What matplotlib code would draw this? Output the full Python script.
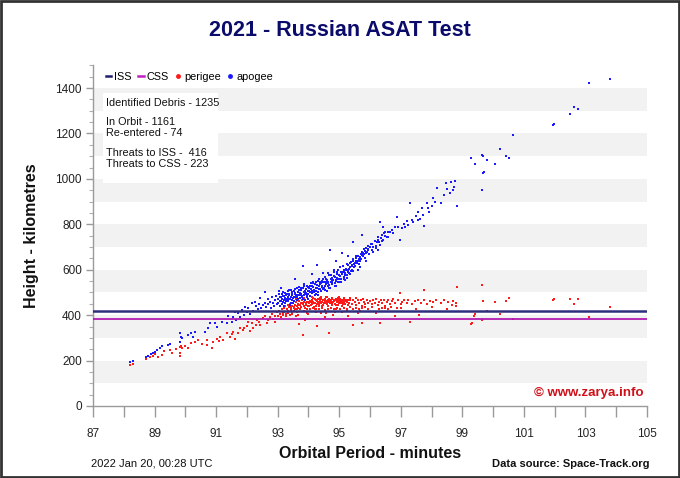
import matplotlib
matplotlib.use("Agg")
import matplotlib.pyplot as plt
import numpy as np
from matplotlib.lines import Line2D
from matplotlib.patches import Rectangle

plt.rcParams['font.family'] = ['Liberation Sans', 'DejaVu Sans']

# ---------------- data ----------------
iss_height = 420
css_height = 385

apogee = [
    (88.20, 195), (88.31, 199), (88.72, 214), (88.80, 220), (88.87, 229), (88.94, 235), (89.01, 239),
    (89.09, 247), (89.18, 254), (89.23, 264), (89.45, 269), (89.50, 273), (89.83, 320), (89.83, 283),
    (89.88, 298), (89.85, 305), (90.10, 313), (90.20, 320), (90.31, 327), (90.26, 305), (90.64, 327),
    (90.75, 342), (90.80, 364), (90.96, 364), (91.02, 349), (91.18, 371), (91.34, 364), (91.50, 371),
    (91.61, 415), (91.72, 408), (91.83, 423), (91.78, 393), (91.94, 437), (92.16, 452), (92.26, 459),
    (92.43, 474), (92.53, 445), (91.40, 395), (91.55, 390), (91.65, 380), (91.90, 400), (92.00, 415),
    (92.05, 430), (92.10, 405), (92.20, 420), (92.30, 440), (92.35, 425), (92.40, 450), (92.45, 432),
    (92.60, 455), (92.62, 438), (92.68, 470), (92.70, 448), (92.75, 460), (92.78, 430), (92.82, 478),
    (92.85, 452), (92.88, 440), (92.92, 465), (92.95, 485), (92.98, 448),
    (93.00, 455), (93.02, 470), (93.05, 492), (93.07, 440), (93.10, 462), (93.12, 478), (93.15, 450),
    (93.17, 500), (93.20, 468), (93.22, 485), (93.25, 455), (93.27, 472), (93.30, 495), (93.32, 462),
    (93.35, 480), (93.37, 510), (93.40, 470), (93.42, 455), (93.45, 488), (93.47, 500), (93.50, 475),
    (93.52, 462), (93.55, 492), (93.57, 515), (93.60, 480), (93.62, 468), (93.65, 500), (93.67, 487),
    (93.70, 525), (93.72, 475), (93.75, 495), (93.77, 510), (93.80, 485), (93.82, 470), (93.85, 502),
    (93.87, 530), (93.90, 492), (93.92, 515), (93.95, 480), (93.97, 505), (94.00, 495), (94.02, 520),
    (94.05, 485), (94.07, 540), (94.10, 505), (94.12, 498), (94.15, 525), (94.17, 512), (94.20, 490),
    (94.22, 535), (94.25, 508), (94.27, 520), (94.30, 550), (94.32, 500), (94.35, 528), (94.37, 515),
    (94.40, 540), (94.42, 505), (94.45, 530), (94.47, 560), (94.50, 520), (94.52, 545), (94.55, 512),
    (94.57, 535), (94.60, 555), (94.62, 528), (94.65, 542), (94.67, 575), (94.70, 520), (94.72, 548),
    (94.75, 565), (94.77, 535), (94.80, 555), (94.82, 590), (94.85, 540), (94.87, 568), (94.90, 550),
    (94.92, 580), (94.95, 560), (94.97, 600), (95.00, 545), (95.02, 572), (95.05, 590), (95.07, 560),
    (95.10, 580), (95.12, 615), (95.15, 570), (95.17, 595), (95.20, 585), (95.22, 605), (95.25, 575),
    (95.27, 620), (95.30, 598), (95.32, 585), (95.35, 610), (95.37, 635), (95.40, 600), (95.42, 620),
    (95.45, 645), (95.47, 610), (95.50, 630), (95.52, 615), (95.55, 650), (95.57, 635), (95.60, 660),
    (95.62, 640), (95.65, 625), (95.67, 655), (95.70, 670), (95.72, 645), (95.75, 680), (95.77, 660),
    (95.80, 690), (95.82, 668), (95.85, 650), (95.87, 695), (95.90, 678), (95.92, 705), (95.95, 688),
    (95.97, 670), (96.00, 700), (96.02, 715),
    (93.08, 482), (93.13, 495), (93.18, 458), (93.23, 476), (93.28, 488), (93.33, 472), (93.38, 493),
    (93.43, 478), (93.48, 465), (93.53, 505), (93.58, 490), (93.63, 478), (93.68, 512), (93.73, 498),
    (93.78, 482), (93.83, 518), (93.88, 505), (93.93, 498), (93.98, 522), (94.03, 505), (94.08, 515),
    (94.13, 530), (94.18, 502), (94.23, 548), (94.28, 532), (94.33, 515), (94.38, 545), (94.43, 522),
    (94.48, 548), (94.53, 530), (94.58, 560), (94.63, 548), (94.68, 532), (94.73, 558), (94.78, 545),
    (94.83, 572), (94.88, 555), (94.93, 565), (94.98, 575), (95.03, 558), (95.08, 582), (95.13, 590),
    (95.18, 578), (95.23, 598), (95.28, 588), (95.33, 605), (95.38, 595), (95.43, 615), (95.48, 625),
    (95.53, 640), (95.58, 628), (95.63, 648), (95.68, 640), (95.73, 665), (95.78, 675), (95.83, 682),
    (95.88, 672), (95.93, 690),
    (93.04, 505), (93.14, 470), (93.24, 498), (93.34, 505), (93.44, 512), (93.54, 478), (93.64, 520),
    (93.74, 488), (93.84, 535), (93.94, 528), (94.04, 530), (94.14, 548), (94.24, 518), (94.34, 560),
    (94.44, 552), (94.54, 570), (94.64, 585), (94.74, 578), (94.84, 598), (94.94, 590), (95.04, 610),
    (95.14, 600), (95.24, 625), (95.34, 630), (95.44, 638), (95.54, 660), (93.16, 485), (93.36, 490),
    (93.56, 498), (93.76, 520), (93.96, 490), (94.16, 540), (94.36, 535), (94.56, 548), (94.76, 550),
    (94.96, 545), (95.16, 560), (95.36, 580), (93.06, 462), (93.26, 462), (93.46, 492), (93.66, 470),
    (93.86, 490), (94.06, 500), (94.26, 495), (94.46, 515), (94.66, 520), (94.86, 530), (95.06, 545),
    (95.26, 565), (95.46, 595), (95.66, 612), (95.86, 640),
    (93.20, 440), (93.50, 452), (93.90, 465), (94.30, 488), (94.60, 505), (94.90, 528), (95.20, 555),
    (95.60, 598), (93.40, 445), (94.00, 470),
    (93.81, 616), (94.29, 621), (94.70, 687), (95.08, 672), (95.46, 723), (95.73, 753), (94.48, 584),
    (93.55, 560), (94.10, 580), (93.10, 520), (92.60, 500), (94.90, 640), (95.30, 660),
    (96.06, 687), (96.11, 701), (96.22, 723), (96.27, 687), (96.27, 743), (96.32, 709), (96.32, 811),
    (96.38, 753), (96.43, 731), (96.43, 790), (96.49, 768), (96.54, 743), (96.65, 768), (96.76, 760),
    (96.81, 787), (96.87, 834), (96.97, 731), (97.03, 782), (97.14, 790), (97.24, 797), (97.40, 811),
    (97.55, 819), (97.62, 822), (97.73, 841), (97.75, 793), (97.57, 856), (97.68, 870), (97.93, 856),
    (97.84, 892), (98.00, 880), (98.06, 914), (98.31, 892), (97.30, 892), (98.17, 961), (98.60, 936),
    (98.69, 951), (98.73, 966), (98.47, 983), (98.62, 988), (98.82, 881),
    (96.05, 715), (96.10, 680), (96.15, 725), (96.18, 705), (96.20, 695), (96.25, 730), (96.30, 720),
    (96.35, 740), (96.40, 725), (96.45, 760), (96.50, 748), (96.58, 765), (96.60, 745), (96.70, 775),
    (96.90, 790), (97.10, 800), (97.20, 815), (97.35, 820), (97.50, 835), (97.90, 870), (98.10, 900),
    (98.40, 930), (98.50, 955), (98.75, 990),
    (99.29, 1090), (99.40, 1067), (99.63, 1104), (99.66, 1100), (99.79, 1083), (100.05, 1066),
    (99.68, 1027), (99.70, 1030), (99.65, 952), (100.22, 1133), (100.42, 1101), (100.53, 1093),
    (100.63, 1195), (101.96, 1236), (101.99, 1240), (102.50, 1284), (102.64, 1318), (102.75, 1308),
    (103.11, 1421), (103.79, 1438),
]

perigee = [
    (88.20, 181), (88.30, 185), (88.72, 205), (88.85, 214), (88.96, 220), (89.12, 217), (89.23, 225),
    (89.50, 247), (89.56, 232), (89.83, 261), (89.86, 265), (89.88, 254), (89.85, 258), (89.83, 232),
    (89.83, 220), (90.10, 254), (90.20, 276), (90.42, 291), (90.69, 291), (90.71, 269), (90.86, 254),
    (90.91, 283), (91.02, 294), (91.13, 305), (91.23, 291), (91.34, 320), (91.45, 305), (91.56, 327),
    (91.61, 294), (91.72, 320), (91.78, 342), (91.88, 335), (91.99, 352), (92.16, 364), (92.21, 342),
    (92.32, 379), (92.43, 357), (92.53, 386), (92.64, 364), (92.75, 393), (92.97, 415),
    (89.00, 230), (89.30, 240), (89.70, 250), (90.00, 265), (90.30, 280), (90.55, 275), (91.10, 285),
    (91.50, 315), (91.90, 345), (92.05, 368), (92.10, 330), (92.28, 355), (92.40, 372), (92.58, 395),
    (92.70, 378), (92.80, 405), (92.85, 385), (92.90, 398), (92.92, 372), (93.00, 395), (93.05, 420),
    (93.08, 405), (93.12, 390), (93.15, 425), (93.18, 410),
    (93.20, 432), (93.22, 415), (93.25, 440), (93.27, 405), (93.30, 428), (93.32, 445), (93.35, 418),
    (93.37, 436), (93.40, 450), (93.42, 425), (93.45, 440), (93.47, 412), (93.50, 455), (93.52, 432),
    (93.55, 445), (93.57, 425), (93.60, 458), (93.62, 440), (93.65, 450), (93.67, 430), (93.70, 462),
    (93.72, 445), (93.75, 455), (93.77, 435), (93.80, 465), (93.82, 448), (93.85, 458), (93.87, 440),
    (93.90, 468), (93.92, 452), (93.95, 460), (93.97, 442), (94.00, 470), (94.02, 455), (94.05, 462),
    (94.07, 445), (94.10, 468), (94.12, 450), (94.15, 460), (94.17, 438), (94.20, 472), (94.22, 455),
    (94.25, 465), (94.27, 448), (94.30, 470), (94.32, 458), (94.35, 440), (94.37, 465), (94.40, 452),
    (94.42, 470), (94.45, 460), (94.47, 445), (94.50, 468), (94.52, 455), (94.55, 472), (94.57, 462),
    (94.60, 448), (94.62, 468), (94.65, 458), (94.67, 470), (94.70, 452), (94.72, 465), (94.75, 445),
    (94.77, 470), (94.80, 460), (94.82, 468), (94.85, 450), (94.87, 465), (94.90, 472), (94.92, 458),
    (94.95, 445), (94.97, 468), (95.00, 460), (95.02, 470), (95.05, 452), (95.07, 465), (95.10, 440),
    (95.12, 468), (95.15, 458), (95.17, 470), (95.20, 450), (95.22, 465), (95.25, 460), (95.27, 445),
    (95.30, 468), (95.32, 455), (95.35, 465), (95.40, 450), (95.45, 468), (95.50, 458), (95.55, 445),
    (95.60, 465), (95.65, 455), (95.70, 468), (95.75, 440), (95.80, 460), (95.85, 450), (95.90, 465),
    (95.95, 455),
    (93.33, 420), (93.43, 435), (93.53, 418), (93.63, 428), (93.68, 445), (93.78, 452), (93.88, 430),
    (93.93, 445), (93.98, 458), (94.03, 440), (94.08, 458), (94.13, 465), (94.18, 455), (94.23, 440),
    (94.28, 462), (94.33, 450), (94.38, 458), (94.43, 442), (94.48, 465), (94.53, 462), (94.58, 455),
    (94.63, 440), (94.68, 462), (94.73, 458), (94.78, 455), (94.83, 462), (94.88, 445), (94.93, 468),
    (94.98, 455), (95.03, 462), (95.08, 458), (95.13, 450), (95.18, 462),
    (93.34, 410), (93.44, 422), (93.54, 438), (93.64, 415), (93.74, 425), (93.84, 420), (93.94, 428),
    (94.04, 425), (94.14, 432), (94.24, 428), (94.34, 425), (94.44, 430), (94.54, 422), (94.64, 428),
    (94.74, 432), (94.84, 425), (94.94, 430), (95.04, 428), (95.14, 432), (95.24, 425), (95.34, 435),
    (95.44, 428), (95.54, 432), (95.64, 425), (95.74, 430), (95.84, 438), (95.94, 428), (93.58, 470),
    (93.86, 474), (94.16, 475), (94.36, 476), (94.56, 478), (94.76, 476), (94.96, 477), (95.16, 476),
    (95.36, 475), (95.56, 474), (95.76, 472), (93.16, 400), (93.26, 395), (93.46, 405), (93.66, 400),
    (93.96, 410), (94.26, 412), (94.56, 408), (94.86, 412), (95.26, 418), (95.66, 420), (96.08, 435),
    (96.28, 425), (96.48, 432), (96.68, 438), (96.88, 430),
    (93.81, 313), (94.68, 323), (94.29, 352), (95.46, 357), (95.73, 364), (93.60, 395), (94.00, 405),
    (94.40, 410), (94.80, 400), (95.10, 415), (95.30, 395), (93.90, 380), (94.55, 390), (93.40, 400),
    (95.60, 410), (93.70, 360), (94.20, 425), (94.90, 425),
    (94.10, 478), (94.60, 480), (95.00, 482), (94.40, 478),
    (96.00, 462), (96.05, 448), (96.10, 465), (96.15, 455), (96.20, 470), (96.25, 445), (96.30, 460),
    (96.35, 468), (96.40, 452), (96.45, 465), (96.50, 440), (96.55, 458), (96.60, 468), (96.65, 450),
    (96.70, 462), (96.75, 470), (96.80, 455), (96.90, 465), (97.00, 448), (97.05, 460), (97.10, 468),
    (97.20, 455), (97.25, 465), (97.35, 450), (97.45, 462), (97.55, 468), (97.65, 455), (97.75, 465),
    (97.85, 448), (97.95, 462), (98.05, 458), (98.15, 468), (98.30, 452), (98.40, 465), (98.55, 458),
    (98.65, 445), (98.70, 462), (98.80, 455), (96.19, 408), (96.32, 364), (97.30, 371), (96.97, 496),
    (97.76, 511), (98.82, 525), (96.40, 430), (96.60, 425), (97.00, 432), (97.50, 425), (98.00, 435),
    (98.50, 428), (98.78, 440), (96.80, 395), (97.60, 400),
    (99.65, 533), (99.68, 464), (100.05, 459), (100.42, 461), (100.53, 474), (101.96, 468),
    (101.99, 470), (102.50, 471), (102.75, 470), (102.63, 448), (103.79, 436), (100.22, 405),
    (99.80, 420), (99.39, 395), (99.63, 379), (100.63, 384), (103.11, 391), (99.28, 360),
    (99.40, 406), (99.30, 364),
]

info_lines = ["Identified Debris - 1235", "In Orbit - 1161", "Re-entered - 74",
              "Threats to ISS -  416", "Threats to CSS - 223"]
info_heights = [1334, 1250, 1202, 1114, 1066]

# ---------------- figure ----------------
fig = plt.figure(figsize=(6.8, 4.78), dpi=100)
fig.patch.set_facecolor('white')
ax = fig.add_axes([93/680, 72/478, 554/680, 340.7/478])

ax.set_xlim(87, 105)
ax.set_ylim(0, 1500)

# alternating bands
for lo in range(100, 1400, 200):
    ax.axhspan(lo, lo + 100, color='#f2f2f2', lw=0, zorder=0)

ap = np.array(apogee)
pe = np.array(perigee)
ax.scatter(pe[:, 0], pe[:, 1], s=3.6, marker='s', color='#ff1a1a', lw=0, zorder=3)
ax.scatter(ap[:, 0], ap[:, 1], s=3.6, marker='s', color='#1a1aff', lw=0, zorder=3)

ax.axhline(iss_height, color='#2e2e7e', lw=1.8, zorder=4)
ax.axhline(css_height, color='#b01ab0', lw=1.3, zorder=4)

# info box
ax.add_patch(Rectangle((87.32, 982), 3.74, 396, facecolor='white', edgecolor='none', zorder=2))
for t, h in zip(info_lines, info_heights):
    ax.text(87.42, h, t, fontsize=7.8, color='#111111', va='center', ha='left', zorder=5)

# legend
handles = [Line2D([0], [0], color='#1e1e6e', lw=1.8),
           Line2D([0], [0], color='#c020c0', lw=1.8),
           Line2D([0], [0], color='#ff1a1a', lw=0, marker='o', markersize=2.5),
           Line2D([0], [0], color='#1a1aff', lw=0, marker='o', markersize=2.5)]
ax.legend(handles, ['ISS', 'CSS', 'perigee', 'apogee'], ncol=4, loc='upper left',
          bbox_to_anchor=(0.007, 1.005), frameon=False, fontsize=7.8, handlelength=0.5,
          handletextpad=0.3, columnspacing=0.6, borderpad=0.3)

# axes styling
for s in ['top', 'right']:
    ax.spines[s].set_visible(False)
for s in ['left', 'bottom']:
    ax.spines[s].set_color('#9a9a9a')
    ax.spines[s].set_linewidth(1)

ax.set_xticks(range(87, 106))
ax.set_xticklabels([str(v) if v % 2 == 1 else '' for v in range(87, 106)])
ax.set_yticks(range(0, 1401, 200))
ax.set_yticks(range(0, 1501, 50), minor=True)
ax.tick_params(axis='x', direction='out', length=8, width=1, color='#9a9a9a', labelsize=8.5,
               labelcolor='#222222', pad=8)
ax.tick_params(axis='y', which='major', direction='out', length=5, width=1, color='#9a9a9a',
               labelsize=8.5, labelcolor='#222222', pad=3)
ax.tick_params(axis='y', which='minor', direction='out', length=3, width=0.8, color='#b0b0b0')

# texts
fig.text(0.5, 1 - 30/478, '2021 - Russian ASAT Test', ha='center', va='center',
         fontsize=15.5, fontweight='bold', color='#0b0b6b')
fig.text(370/680, 1 - 453/478, 'Orbital Period - minutes', ha='center', va='center',
         fontsize=11.5, fontweight='bold', color='#111111')
fig.text(32/680, 1 - 236/478, 'Height - kilometres', ha='center', va='center', rotation=90,
         fontsize=11.5, fontweight='bold', color='#111111')
fig.text(91/680, 1 - 464/478, '2022 Jan 20, 00:28 UTC', ha='left', va='center',
         fontsize=8, color='#111111')
fig.text(649/680, 1 - 464/478, 'Data source: Space-Track.org', ha='right', va='center',
         fontsize=8, fontweight='bold', color='#111111')
fig.text(643/680, 1 - 393/478, '\u00a9 www.zarya.info', ha='right', va='center',
         fontsize=9.5, fontweight='bold', color='#d0101a')

# outer frame
fig.add_artist(Rectangle((0.002, 0.003), 0.996, 0.994, transform=fig.transFigure,
                         fill=False, edgecolor='#333333', lw=2))

fig.savefig('out.png', dpi=100, facecolor='white')
